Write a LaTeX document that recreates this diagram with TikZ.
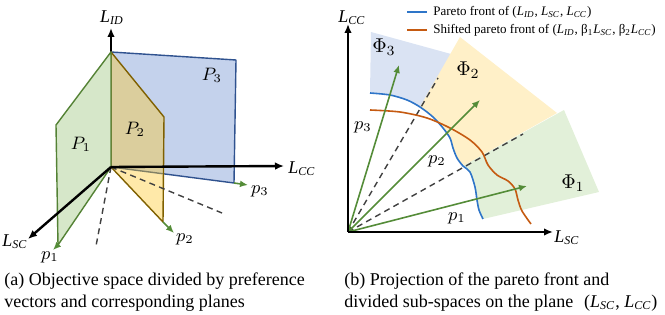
\documentclass[tikz,border=0pt]{standalone}
\usepackage{amsmath}
\usepackage{fontspec}
\setmainfont{Liberation Serif}
\usepackage{tikz}
\usetikzlibrary{positioning,arrows.meta}

\definecolor{planeblue}{RGB}{196,210,236}
\definecolor{edgeblue}{RGB}{47,82,143}
\definecolor{planeyellow}{RGB}{255,200,40}
\definecolor{edgegold}{RGB}{127,96,0}
\definecolor{planegreen}{RGB}{214,231,201}
\definecolor{edgegreen}{RGB}{84,130,53}
\definecolor{arrowgreen}{RGB}{84,140,56}
\definecolor{phiblue}{RGB}{218,227,243}
\definecolor{phiyellow}{RGB}{255,240,200}
\definecolor{phigreen}{RGB}{226,240,217}
\definecolor{frontblue}{RGB}{46,117,200}
\definecolor{frontorange}{RGB}{197,90,17}

% loss symbol with italic subscript
\newcommand{\lossL}[1]{\textit{L}\textsubscript{\textit{#1}}}

\tikzset{
  axisarrow/.style={line width=1.2pt,-{Latex[length=4.5pt,width=3.8pt]}},
  pref/.style={arrowgreen,line width=0.8pt,-{Latex[length=4pt,width=3.4pt]}},
  divline/.style={black!75,line width=0.7pt,dash pattern=on 3pt off 2.2pt},
  plane/.style={line width=0.7pt,line join=round},
  front/.style={line width=0.8pt},
  lbl/.style={inner sep=0pt,font=\fontsize{9}{10}\selectfont},
  philbl/.style={inner sep=0pt,font=\fontsize{10}{12}\selectfont},
  legendtext/.style={inner sep=0pt,anchor=west,font=\fontsize{6.5}{8}\selectfont},
  captext/.style={inner sep=0pt,anchor=base west,font=\fontsize{9}{11}\selectfont},
}

\begin{document}
\begin{tikzpicture}[x=0.5pt,y=-0.5pt]
  \useasboundingbox (0,0) rectangle (665,315);

  % left panel: origin and plane corners
  \coordinate (O) at (111,167);
  \coordinate (T) at (111,52);
  \coordinate (A1) at (56,125);
  \coordinate (B1) at (58,245);
  \coordinate (A2) at (164,117);
  \coordinate (B2) at (163,222);
  \coordinate (A3) at (236,60);
  \coordinate (B3) at (234,183);

  % axis ends, preference vector ends, dashed ends
  \coordinate (ID) at (111,28);
  \coordinate (CC) at (284,166);
  \coordinate (SC) at (28,239);
  \coordinate (q1) at (53,250);
  \coordinate (q2) at (174,233);
  \coordinate (q3) at (248,185);
  \coordinate (d1) at (96,246);
  \coordinate (d2) at (222,213);

  \draw[axisarrow] (O)--(ID);

  % planes, back to front
  \draw[plane,edgeblue,fill=planeblue] (O)--(T)--(A3)--(B3)--cycle;
  \draw[plane,edgegold,fill=planeyellow,fill opacity=0.4] (O)--(T)--(A2)--(B2)--cycle;
  \draw[plane,edgegreen,fill=planegreen] (O)--(T)--(A1)--(B1)--cycle;

  \draw[pref] (B1)--(q1);
  \draw[pref] (B2)--(q2);
  \draw[pref] (B3)--(q3);

  \draw[divline] (O)--(d1) (O)--(d2);

  \draw[axisarrow] (O)--(CC);
  \draw[axisarrow] (O)--(SC);

  \node[lbl] (lid) at (112,18) {\lossL{ID}};
  \node[lbl,anchor=west] (lcc) at (288,169) {\lossL{CC}};
  \node[lbl,anchor=west] (lsc) at (2,242) {\lossL{SC}};
  \node[lbl] (P1) at (81,144) {$P_1$};
  \node[lbl] (P2) at (135,129) {$P_2$};
  \node[lbl] (P3) at (212,75) {$P_3$};
  \node[lbl] (p1) at (50,257) {$p_1$};
  \node[lbl] (p2) at (185,239) {$p_2$};
  \node[lbl] (p3) at (260,191) {$p_3$};

  % right panel: origin, axes, pareto front points
  \coordinate (R) at (348,232);
  \coordinate (RCC) at (348,24);
  \coordinate (RSC) at (553,232);
  \coordinate (F0) at (370,93);
  \coordinate (FA) at (420,107);
  \coordinate (FB) at (463,166);
  \coordinate (FE) at (483,219);

  % sub-spaces
  \fill[phiblue] (F0)--(371,32)--(451,54)--(FA)
    -- plot[smooth] coordinates {(FA) (407,100) (390,95) (F0)} -- cycle;
  \fill[phiyellow] (FA)--(460,37)--(557,113)--(FB)
    -- plot[smooth] coordinates {(FB) (457,158) (453,148) (450,138) (443,128) (433,117) (FA)} -- cycle;
  \fill[phigreen] (FB)--(564,110)--(599,192)--(FE)
    -- plot[smooth] coordinates {(FE) (479,210) (477,200) (475,187) (470,172) (FB)} -- cycle;

  \coordinate (e1) at (438,78);
  \coordinate (e2) at (523,134);
  \draw[divline] (R)--(e1) (R)--(e2);

  % fronts
  \draw[front,frontblue] plot[smooth] coordinates {(F0) (390,95) (407,100) (FA) (433,117) (443,128) (450,138) (453,148) (457,158) (FB) (470,172) (475,187) (477,200) (479,210) (FE)};
  \draw[front,frontorange] plot[smooth] coordinates {(370,110) (400,112) (427,118) (450,128) (470,140) (482,152) (488,165) (497,175) (508,181) (515,189) (518,200) (522,211) (531,224)};

  \coordinate (r1) at (527,186);
  \coordinate (r2) at (480,100);
  \coordinate (r3) at (399,65);
  \draw[pref] (R)--(r1);
  \draw[pref] (R)--(r2);
  \draw[pref] (R)--(r3);

  \draw[axisarrow] (R)--(RCC);
  \draw[axisarrow] (R)--(RSC);

  \node[lbl] (rcc) at (352,18) {\lossL{CC}};
  \node[lbl,anchor=west] (rsc) at (554,238) {\lossL{SC}};
  \node[lbl] (rp1) at (457,218) {$p_1$};
  \node[lbl] (rp2) at (437,161) {$p_2$};
  \node[lbl] (rp3) at (363,127) {$p_3$};
  \node[philbl] (phi1) at (573,183) {$\Phi_1$};
  \node[philbl] (phi2) at (468,70) {$\Phi_2$};
  \node[philbl] (phi3) at (384,47) {$\Phi_3$};

  % legend
  \coordinate (lg1) at (407,12);
  \coordinate (lg1e) at (427,12);
  \coordinate (lg2) at (407,30);
  \coordinate (lg2e) at (427,30);
  \draw[front,frontblue] (lg1)--(lg1e);
  \draw[front,frontorange] (lg2)--(lg2e);
  \node[legendtext,right=3pt of lg1e] (leg1) {Pareto front of (\lossL{ID}, \lossL{SC}, \lossL{CC})};
  \node[legendtext,right=3pt of lg2e] (leg2) {Shifted pareto front of (\lossL{ID}, β\textsubscript{1}\lossL{SC}, β\textsubscript{2}\lossL{CC})};

  % captions
  \node[captext] (capa) at (4,285.5) {(a) Objective space divided by preference};
  \node[captext] (capa2) at (4,308) {vectors and corresponding planes};
  \node[captext] (capb) at (344,285.5) {(b) Projection of the pareto front and};
  \node[captext] (capb2) at (344,308) {divided sub-spaces on the plane\hspace{0.6em}(\lossL{SC}, \lossL{CC})};
\end{tikzpicture}
\end{document}
